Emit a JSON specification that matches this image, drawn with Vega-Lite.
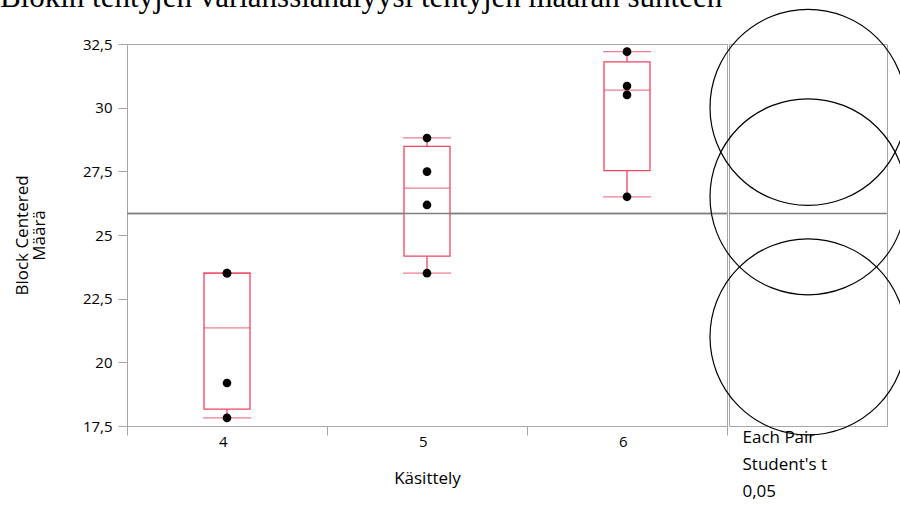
{
  "$schema": "https://vega.github.io/schema/vega-lite/v6.json",
  "padding": {"left": -1, "top": -19, "right": 0, "bottom": 0},
  "bounds": "flush",
  "title": {"text": "Blokin tehtyjen varianssianalyysi tehtyjen määrän suhteen", "font": "Liberation Serif", "fontSize": 31, "fontWeight": "normal", "anchor": "start", "frame": "bounds", "color": "black", "offset": -7, "dx": -13},
  "config": {
    "view": {"stroke": "#a6a6a6"},
    "axis": {"labelFont": "Open Sans", "titleFont": "Open Sans", "labelFontSize": 15, "titleFontSize": 17, "labelColor": "#000", "titleColor": "#000", "titleFontWeight": "normal", "domainColor": "#a6a6a6", "tickColor": "#a6a6a6", "grid": false}
  },
  "datasets": {
    "points": [
      {"Käsittely": "4", "Määrä": 17.82}, {"Käsittely": "4", "Määrä": 19.19}, {"Käsittely": "4", "Määrä": 23.5}, {"Käsittely": "4", "Määrä": 23.5},
      {"Käsittely": "5", "Määrä": 23.5}, {"Käsittely": "5", "Määrä": 26.18}, {"Käsittely": "5", "Määrä": 27.49}, {"Käsittely": "5", "Määrä": 28.81},
      {"Käsittely": "6", "Määrä": 26.5}, {"Käsittely": "6", "Määrä": 30.5}, {"Käsittely": "6", "Määrä": 30.85}, {"Käsittely": "6", "Määrä": 32.2}
    ],
    "boxes": [
      {"Käsittely": "4", "low": 17.82, "q1": 18.16, "median": 21.35, "q3": 23.5, "high": 23.5},
      {"Käsittely": "5", "low": 23.5, "q1": 24.17, "median": 26.84, "q3": 28.48, "high": 28.81},
      {"Käsittely": "6", "low": 26.5, "q1": 27.53, "median": 30.69, "q3": 31.8, "high": 32.2}
    ],
    "means": [
      {"Käsittely": "4", "mean": 21.0},
      {"Käsittely": "5", "mean": 26.5},
      {"Käsittely": "6", "mean": 30.01}
    ],
    "grand": [{"grandMean": 25.84}]
  },
  "spacing": 2,
  "hconcat": [
    {
      "width": 600,
      "height": 382,
      "layer": [
        {
          "data": {"name": "grand"},
          "mark": {"type": "rule", "color": "#808080", "strokeWidth": 1.5},
          "encoding": {"y": {"field": "grandMean", "type": "quantitative", "scale": {"domain": [17.5, 32.5], "nice": false, "zero": false}}}
        },
        {
          "data": {"name": "boxes"},
          "mark": {"type": "rule", "color": "#ee4560", "strokeWidth": 1.3},
          "encoding": {
            "x": {"field": "Käsittely", "type": "nominal"},
            "y": {"field": "low", "type": "quantitative"},
            "y2": {"field": "high"}
          }
        },
        {
          "data": {"name": "boxes"},
          "mark": {"type": "bar", "fill": "white", "stroke": "#ee4560", "strokeWidth": 1.3, "width": 46},
          "encoding": {
            "x": {"field": "Käsittely", "type": "nominal"},
            "y": {"field": "q1", "type": "quantitative"},
            "y2": {"field": "q3"}
          }
        },
        {
          "data": {"name": "boxes"},
          "mark": {"type": "tick", "color": "#ee4560", "size": 48, "thickness": 1.3},
          "encoding": {
            "x": {"field": "Käsittely", "type": "nominal"},
            "y": {"field": "low", "type": "quantitative"}
          }
        },
        {
          "data": {"name": "boxes"},
          "mark": {"type": "tick", "color": "#ee4560", "size": 48, "thickness": 1.3},
          "encoding": {
            "x": {"field": "Käsittely", "type": "nominal"},
            "y": {"field": "high", "type": "quantitative"}
          }
        },
        {
          "data": {"name": "boxes"},
          "mark": {"type": "tick", "color": "#ee4560", "size": 46, "thickness": 1.3},
          "encoding": {
            "x": {"field": "Käsittely", "type": "nominal"},
            "y": {"field": "median", "type": "quantitative"}
          }
        },
        {
          "data": {"name": "grand"},
          "mark": {"type": "rule", "color": "#808080", "strokeWidth": 1.5},
          "encoding": {"y": {"field": "grandMean", "type": "quantitative"}}
        },
        {
          "data": {"name": "points"},
          "mark": {"type": "point", "filled": true, "color": "black", "opacity": 1, "size": 75},
          "encoding": {
            "x": {"field": "Käsittely", "type": "nominal", "scale": {"domain": ["4", "5", "6"], "paddingInner": 0, "paddingOuter": 0}, "axis": {"labelAngle": 0, "tickBand": "extent", "tickSize": 9, "labelPadding": 6, "title": "Käsittely", "titlePadding": 21}},
            "y": {"field": "Määrä", "type": "quantitative", "axis": {"values": [17.5, 20, 22.5, 25, 27.5, 30, 32.5], "labelExpr": "replace(format(datum.value, '~g'), '.', ',')", "tickSize": 9, "labelPadding": 6, "title": ["Block Centered", "Määrä"], "titleLineHeight": 17, "titlePadding": 34}}
          }
        }
      ]
    },
    {
      "width": 158,
      "height": 382,
      "layer": [
        {
          "data": {"name": "grand"},
          "mark": {"type": "rule", "color": "#808080", "strokeWidth": 1.5},
          "encoding": {"y": {"field": "grandMean", "type": "quantitative", "scale": {"domain": [17.5, 32.5], "nice": false, "zero": false}, "axis": null}}
        },
        {
          "data": {"name": "means"},
          "mark": {"type": "point", "shape": "circle", "filled": false, "stroke": "black", "strokeWidth": 1.2, "opacity": 1, "size": 38416},
          "encoding": {
            "x": {"datum": 0, "type": "quantitative", "scale": {"domain": [-1, 1]}, "axis": {"title": ["Each Pair", "Student's t", "\u00a00,05"], "labels": false, "ticks": false, "domain": false, "titleAnchor": "start", "titleAlign": "left", "titleX": 13, "titleY": 3, "titleBaseline": "top", "titleLineHeight": 27}},
            "y": {"field": "mean", "type": "quantitative", "axis": null}
          }
        }
      ]
    }
  ]
}
